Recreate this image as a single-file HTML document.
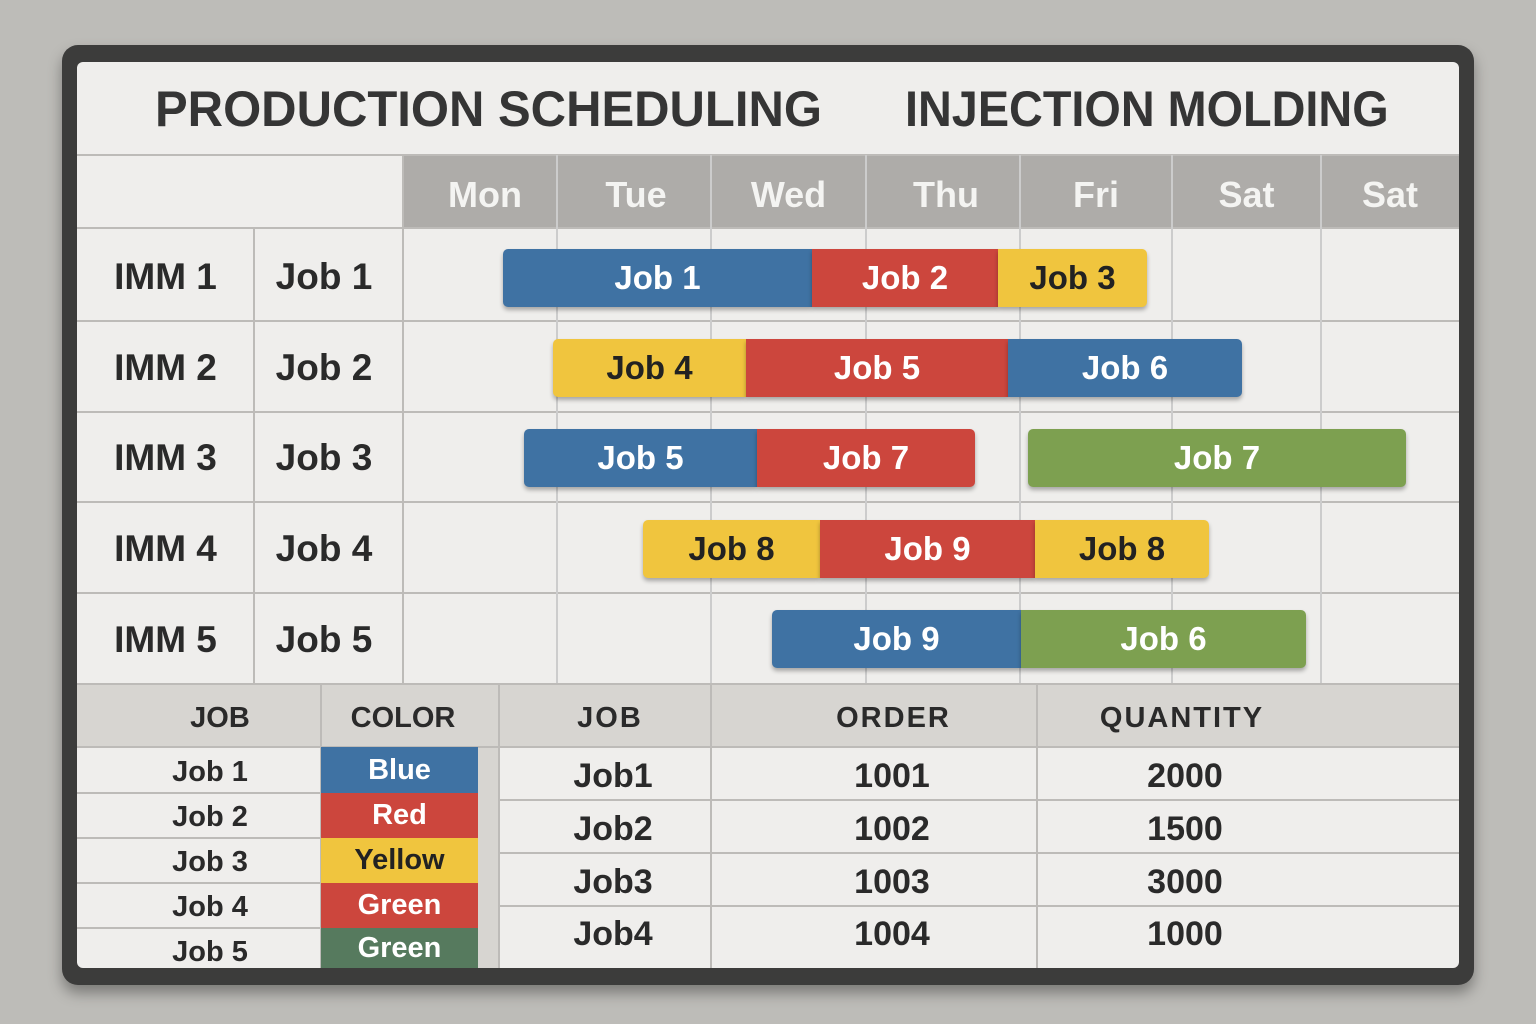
<!DOCTYPE html>
<html><head><style>
body{margin:0;width:1536px;height:1024px;background:#bdbcb8;position:relative;overflow:hidden;font-family:"Liberation Sans",sans-serif;font-weight:bold}
.a{position:absolute}
.frame{left:62px;top:45px;width:1412px;height:940px;background:#3c3c3b;border-radius:16px;box-shadow:0 8px 14px rgba(0,0,0,.35)}
.panel{left:77px;top:62px;width:1382px;height:906px;background:#efeeec;border-radius:6px;overflow:hidden}
.hl{position:absolute;background:#bdbbb8;height:2px}
.vl{position:absolute;background:#bdbbb8;width:2px}
.t{position:absolute;display:flex;align-items:center;justify-content:center;color:#2a2a2a}
.bar{position:absolute;height:58px;display:flex;align-items:center;justify-content:center;font-size:33px;color:#fff;box-shadow:0 3px 4px rgba(0,0,0,.3)}
.B{background:#3f72a3}.R{background:#cc463d}.Y{background:#f0c53e;color:#222}.G{background:#7da050}
</style></head><body>
<div class="a frame"></div>
<div class="a panel"></div>
<div class="t" style="left:77px;top:62px;width:1382px;height:93px;font-size:50px;color:#353535"><span style="position:absolute;left:78px;transform:scaleX(0.98);transform-origin:left">PRODUCTION SCHEDULING</span><span style="position:absolute;left:828px;transform:scaleX(0.936);transform-origin:left">INJECTION MOLDING</span></div>
<div class="a" style="left:403px;top:155px;width:1056px;height:73px;background:#aeaca9"></div>
<div class="hl" style="left:77px;top:154px;width:1382px"></div>
<div class="hl" style="left:77px;top:227px;width:1382px"></div>
<div class="hl" style="left:77px;top:320px;width:1382px"></div>
<div class="hl" style="left:77px;top:411px;width:1382px"></div>
<div class="hl" style="left:77px;top:501px;width:1382px"></div>
<div class="hl" style="left:77px;top:592px;width:1382px"></div>
<div class="vl" style="left:253px;top:228px;height:456px"></div>
<div class="vl" style="left:402px;top:155px;height:529px"></div>
<div class="vl" style="left:556px;top:155px;height:529px;background:#ccc"></div>
<div class="vl" style="left:710px;top:155px;height:529px;background:#ccc"></div>
<div class="vl" style="left:865px;top:155px;height:529px;background:#ccc"></div>
<div class="vl" style="left:1019px;top:155px;height:529px;background:#ccc"></div>
<div class="vl" style="left:1171px;top:155px;height:529px;background:#ccc"></div>
<div class="vl" style="left:1320px;top:155px;height:529px;background:#ccc"></div>
<div class="t" style="left:403px;top:155px;width:164px;height:79px;font-size:36px;color:#f4f4f2">Mon</div>
<div class="t" style="left:557px;top:155px;width:158px;height:79px;font-size:36px;color:#f4f4f2">Tue</div>
<div class="t" style="left:711px;top:155px;width:155px;height:79px;font-size:36px;color:#f4f4f2">Wed</div>
<div class="t" style="left:866px;top:155px;width:160px;height:79px;font-size:36px;color:#f4f4f2">Thu</div>
<div class="t" style="left:1020px;top:155px;width:152px;height:79px;font-size:36px;color:#f4f4f2">Fri</div>
<div class="t" style="left:1172px;top:155px;width:149px;height:79px;font-size:36px;color:#f4f4f2">Sat</div>
<div class="t" style="left:1321px;top:155px;width:138px;height:79px;font-size:36px;color:#f4f4f2">Sat</div>
<div class="t" style="left:77px;top:233px;width:177px;height:88px;font-size:37px">IMM 1</div>
<div class="t" style="left:77px;top:324px;width:177px;height:88px;font-size:37px">IMM 2</div>
<div class="t" style="left:77px;top:414px;width:177px;height:88px;font-size:37px">IMM 3</div>
<div class="t" style="left:77px;top:505px;width:177px;height:88px;font-size:37px">IMM 4</div>
<div class="t" style="left:77px;top:596px;width:177px;height:88px;font-size:37px">IMM 5</div>
<div class="t" style="left:254px;top:233px;width:140px;height:88px;font-size:37px">Job 1</div>
<div class="t" style="left:254px;top:324px;width:140px;height:88px;font-size:37px">Job 2</div>
<div class="t" style="left:254px;top:414px;width:140px;height:88px;font-size:37px">Job 3</div>
<div class="t" style="left:254px;top:505px;width:140px;height:88px;font-size:37px">Job 4</div>
<div class="t" style="left:254px;top:596px;width:140px;height:88px;font-size:37px">Job 5</div>

<div class="bar B" style="left:503px;top:249px;width:309px;border-radius:5px 0 0 5px">Job 1</div>
<div class="bar R" style="left:812px;top:249px;width:186px">Job 2</div>
<div class="bar Y" style="left:998px;top:249px;width:149px;border-radius:0 5px 5px 0">Job 3</div>
<div class="bar Y" style="left:553px;top:339px;width:193px;border-radius:5px 0 0 5px">Job 4</div>
<div class="bar R" style="left:746px;top:339px;width:262px">Job 5</div>
<div class="bar B" style="left:1008px;top:339px;width:234px;border-radius:0 5px 5px 0">Job 6</div>
<div class="bar B" style="left:524px;top:429px;width:233px;border-radius:5px 0 0 5px">Job 5</div>
<div class="bar R" style="left:757px;top:429px;width:218px;border-radius:0 5px 5px 0">Job 7</div>
<div class="bar G" style="left:1028px;top:429px;width:378px;border-radius:5px">Job 7</div>
<div class="bar Y" style="left:643px;top:520px;width:177px;border-radius:5px 0 0 5px">Job 8</div>
<div class="bar R" style="left:820px;top:520px;width:215px">Job 9</div>
<div class="bar Y" style="left:1035px;top:520px;width:174px;border-radius:0 5px 5px 0">Job 8</div>
<div class="bar B" style="left:772px;top:610px;width:249px;border-radius:5px 0 0 5px">Job 9</div>
<div class="bar G" style="left:1021px;top:610px;width:285px;border-radius:0 5px 5px 0">Job 6</div>

<div class="a" style="left:77px;top:684px;width:1382px;height:63px;background:#d7d5d1"></div>
<div class="a" style="left:478px;top:747px;width:20px;height:221px;background:#d7d5d1"></div>
<div class="hl" style="left:77px;top:683px;width:1382px"></div>
<div class="hl" style="left:77px;top:746px;width:1382px"></div>
<div class="vl" style="left:320px;top:684px;height:284px"></div>
<div class="vl" style="left:498px;top:684px;height:284px"></div>
<div class="vl" style="left:710px;top:684px;height:284px"></div>
<div class="vl" style="left:1036px;top:684px;height:284px"></div>
<div class="t" style="left:100px;top:687px;width:240px;height:63px;font-size:29px">JOB</div>
<div class="t" style="left:320px;top:687px;width:166px;height:63px;font-size:29px">COLOR</div>
<div class="t" style="left:498px;top:687px;width:224px;height:63px;font-size:29px;letter-spacing:2px">JOB</div>
<div class="t" style="left:711px;top:687px;width:365px;height:63px;font-size:29px;letter-spacing:2px">ORDER</div>
<div class="t" style="left:1037px;top:687px;width:290px;height:63px;font-size:29px;letter-spacing:2px">QUANTITY</div>
<div class="hl" style="left:77px;top:792px;width:243px"></div>
<div class="hl" style="left:77px;top:837px;width:243px"></div>
<div class="hl" style="left:77px;top:882px;width:243px"></div>
<div class="hl" style="left:77px;top:927px;width:243px"></div>
<div class="t" style="left:100px;top:749px;width:220px;height:46px;font-size:29px">Job 1</div>
<div class="t" style="left:100px;top:795px;width:220px;height:45px;font-size:29px">Job 2</div>
<div class="t" style="left:100px;top:840px;width:220px;height:45px;font-size:29px">Job 3</div>
<div class="t" style="left:100px;top:885px;width:220px;height:45px;font-size:29px">Job 4</div>
<div class="t" style="left:100px;top:930px;width:220px;height:45px;font-size:29px">Job 5</div>
<div class="t B" style="left:321px;top:747px;width:157px;height:46px;font-size:29px;color:#fff">Blue</div>
<div class="t R" style="left:321px;top:793px;width:157px;height:45px;font-size:29px;color:#fff">Red</div>
<div class="t Y" style="left:321px;top:838px;width:157px;height:45px;font-size:29px">Yellow</div>
<div class="t R" style="left:321px;top:883px;width:157px;height:45px;font-size:29px;color:#fff">Green</div>
<div class="t" style="left:321px;top:928px;width:157px;height:40px;font-size:29px;color:#fff;background:#567a5e">Green</div>
<div class="hl" style="left:498px;top:799px;width:961px"></div>
<div class="hl" style="left:498px;top:852px;width:961px"></div>
<div class="hl" style="left:498px;top:905px;width:961px"></div>
<div class="t" style="left:498px;top:750px;width:230px;height:53px;font-size:34px">Job1</div>
<div class="t" style="left:498px;top:803px;width:230px;height:53px;font-size:34px">Job2</div>
<div class="t" style="left:498px;top:856px;width:230px;height:53px;font-size:34px">Job3</div>
<div class="t" style="left:498px;top:908px;width:230px;height:53px;font-size:34px">Job4</div>
<div class="t" style="left:711px;top:750px;width:362px;height:53px;font-size:34px">1001</div>
<div class="t" style="left:711px;top:803px;width:362px;height:53px;font-size:34px">1002</div>
<div class="t" style="left:711px;top:856px;width:362px;height:53px;font-size:34px">1003</div>
<div class="t" style="left:711px;top:908px;width:362px;height:53px;font-size:34px">1004</div>
<div class="t" style="left:1037px;top:750px;width:296px;height:53px;font-size:34px">2000</div>
<div class="t" style="left:1037px;top:803px;width:296px;height:53px;font-size:34px">1500</div>
<div class="t" style="left:1037px;top:856px;width:296px;height:53px;font-size:34px">3000</div>
<div class="t" style="left:1037px;top:908px;width:296px;height:53px;font-size:34px">1000</div>
</body></html>
